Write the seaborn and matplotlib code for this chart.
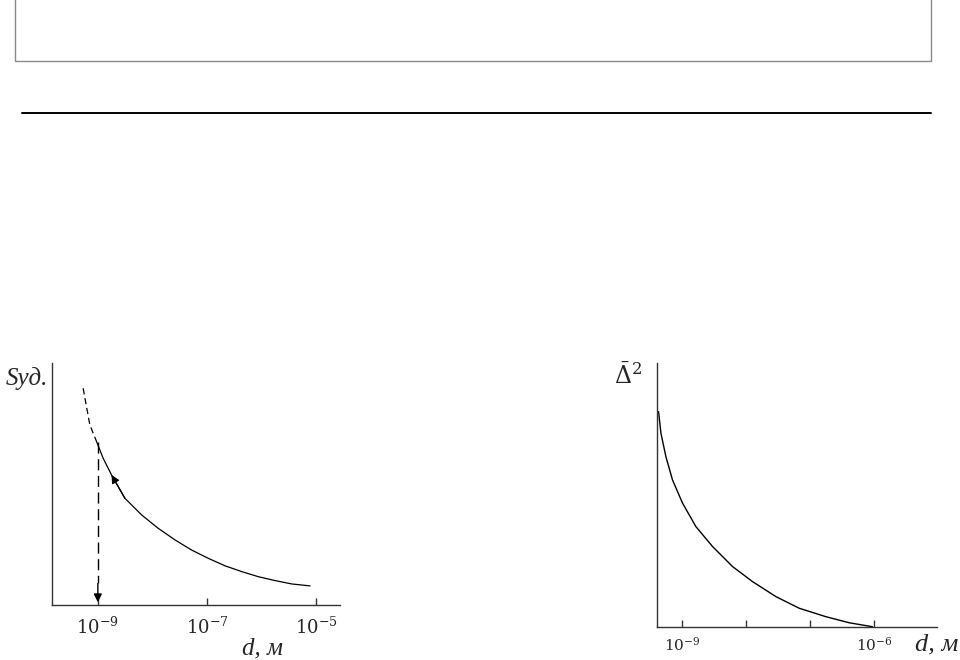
import numpy as np
import pandas as pd
import matplotlib
matplotlib.use("Agg")
import matplotlib.pyplot as plt
import seaborn as sns
from matplotlib.patches import Rectangle

# left panel: specific surface vs particle size (log10 d, relative S)
left_logd_dash = [-9.27, -9.147, -9.024]
left_s_dash = [0.895, 0.744, 0.675]
left_logd = [-9.024, -8.903, -8.749, -8.505, -8.198, -7.895, -7.587, -7.281,
             -6.977, -6.670, -6.363, -6.059, -5.752, -5.446, -5.11]
left_s = [0.675, 0.606, 0.537, 0.441, 0.372, 0.317, 0.269, 0.227,
          0.193, 0.162, 0.138, 0.117, 0.101, 0.087, 0.079]
left_ticks = [-9, -7, -5]
left_ticklabels = ["$10^{-9}$", "$10^{-7}$", "$10^{-5}$"]

# right panel: mean square displacement vs particle size
right_logd = [-9.37, -9.333, -9.255, -9.152, -8.995, -8.786, -8.527, -8.214,
              -7.902, -7.536, -7.172, -6.755, -6.39, -6.027]
right_delta = [0.816, 0.734, 0.645, 0.557, 0.469, 0.380, 0.305, 0.229,
               0.172, 0.115, 0.071, 0.039, 0.016, 0.001]
right_ticks = [-9, -8, -7, -6]
right_ticklabels = ["$10^{-9}$", "", "", "$10^{-6}$"]

sns.set_theme(style="white")
plt.rcParams["font.family"] = ["Liberation Serif", "DejaVu Serif"]
plt.rcParams["mathtext.fontset"] = "dejavuserif"
plt.rcParams["mathtext.default"] = "it"

fig = plt.figure(figsize=(9.6, 6.6), dpi=100)

# page decorations: empty framed box and rule
fig.patches.append(Rectangle((0.0156, 0.9076), 0.954, 0.094, transform=fig.transFigure,
                             fill=False, edgecolor="#8a8a8a", lw=1.0))
fig.add_artist(plt.Line2D([0.023, 0.970], [0.8288, 0.8288], transform=fig.transFigure,
                          color="black", lw=1.4))


def style_axes(ax, xlim, ylim, ticks, labels):
    ax.set_xscale("log")
    ax.set_xlim(10.0 ** xlim[0], 10.0 ** xlim[1])
    ax.set_ylim(*ylim)
    for s in ["top", "right"]:
        ax.spines[s].set_visible(False)
    for s in ["left", "bottom"]:
        ax.spines[s].set_color("#333333")
        ax.spines[s].set_linewidth(1.0)
    ax.set_xticks([10.0 ** t for t in ticks])
    ax.set_xticklabels(labels)
    ax.xaxis.set_minor_locator(matplotlib.ticker.NullLocator())
    ax.set_yticks([])
    ax.tick_params(axis="x", direction="in", length=5, width=1.0, color="#333333",
                   labelsize=13, pad=8, bottom=True)
    ax.set_xlabel("")
    ax.set_ylabel("")


# ---- left panel ----
axl = fig.add_axes([0.0542, 0.0833, 0.300, 0.367])
dash_df = pd.DataFrame({"d": 10.0 ** np.array(left_logd_dash), "s": left_s_dash})
solid_df = pd.DataFrame({"d": 10.0 ** np.array(left_logd), "s": left_s})
sns.lineplot(data=dash_df, x="d", y="s", ax=axl, color="black", lw=0.9,
             linestyle=(0, (5, 3)))
sns.lineplot(data=solid_df, x="d", y="s", ax=axl, color="black", lw=0.9)
style_axes(axl, (-9.84, -4.56), (0, 1.0), left_ticks, left_ticklabels)

# arrow on the curve pointing towards smaller sizes
axl.annotate("", xy=(10.0 ** left_logd[2], left_s[2]),
             xytext=(10.0 ** left_logd[3], left_s[3]),
             arrowprops=dict(arrowstyle="-|>", color="black", lw=0.9,
                             mutation_scale=12, shrinkA=0, shrinkB=0))
# dashed drop to the axis
axl.plot([1e-9, 1e-9], [left_s[0], 0.09], color="black", lw=1.0,
         linestyle=(0, (8, 4)))
axl.annotate("", xy=(1e-9, 0.0), xytext=(1e-9, 0.1),
             arrowprops=dict(arrowstyle="-|>", color="black", lw=1.0,
                             mutation_scale=12))
fig.text(0.006, 0.427, "Sуд.", fontsize=18, style="italic",
         va="center", ha="left")
fig.text(0.252, 0.017, "d, м", fontsize=18, style="italic",
         va="center", ha="left")

# ---- right panel ----
axr = fig.add_axes([0.684, 0.05, 0.292, 0.40])
right_df = pd.DataFrame({"d": 10.0 ** np.array(right_logd), "delta": right_delta})
sns.lineplot(data=right_df, x="d", y="delta", ax=axr, color="black", lw=1.0)
style_axes(axr, (-9.4, -5.02), (0, 1.0), right_ticks, right_ticklabels)
axr.tick_params(axis="x", labelsize=11, pad=6)
fig.text(0.640, 0.430, r"$\bar{\Delta}^{2}$", fontsize=17, va="center", ha="left")
fig.text(0.953, 0.023, "d, м", fontsize=19, style="italic",
         va="center", ha="left")

fig.savefig("out.png", dpi=100)
